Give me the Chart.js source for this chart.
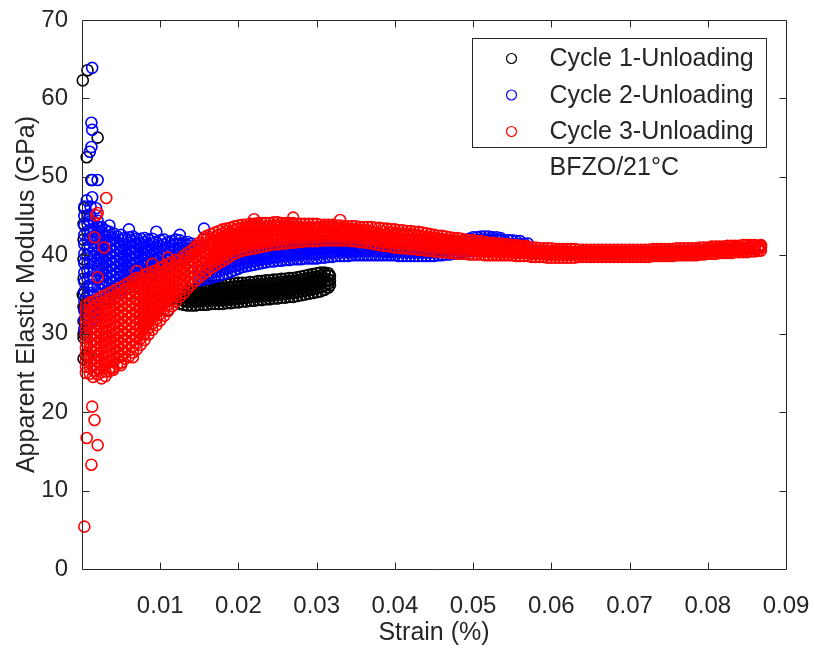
<!DOCTYPE html>
<html>
<head>
<meta charset="utf-8">
<title>Apparent Elastic Modulus vs Strain</title>
<script src="https://cdn.jsdelivr.net/npm/chart.js@4.4.1/dist/chart.umd.min.js"></script>
<style>
  html, body { margin: 0; padding: 0; background: #fff; }
</style>
</head>
<body>
<canvas id="modulusChart" width="815" height="654"></canvas>
<script>
const seriesLabels = ['Cycle 1-Unloading', 'Cycle 2-Unloading', 'Cycle 3-Unloading'];
const seriesColors = ['#000000', '#0000ff', '#ff0000'];
const noteText = 'BFZO/21°C';

// each row: strain (%), then the modulus values (GPa) recorded at that strain
const cycle1Columns = [
  [0.0002, 26.8, 29.5, 31.6, 33.4, 35.0, 37.0, 39.5, 42.0, 44.0],
  [0.0005, 27.2, 30.2, 32.5, 34.5],
  [0.003, 31.5, 33.0, 34.5],
  [0.006, 32.0, 33.5, 35.0],
  [0.009, 32.5, 34.0, 35.5],
  [0.011, 33.0, 34.2],
  [0.0125, 33.8, 34.4, 35.0],
  [0.013, 33.7, 34.2, 34.7, 35.2],
  [0.0135, 33.6, 34.1, 34.6, 35.1, 35.4],
  [0.014, 33.6, 34.1, 34.6, 35.1, 35.5],
  [0.0145, 33.6, 34.1, 34.6, 35.1, 35.6],
  [0.015, 33.7, 34.2, 34.7, 35.2, 35.7],
  [0.0155, 33.7, 34.2, 34.7, 35.2, 35.8],
  [0.016, 33.7, 34.2, 34.7, 35.2, 35.7, 36.0],
  [0.0165, 33.8, 34.3, 34.8, 35.3, 35.8, 36.1],
  [0.017, 33.8, 34.3, 34.8, 35.3, 35.8, 36.1],
  [0.0175, 33.8, 34.3, 34.8, 35.3, 35.8, 36.2],
  [0.018, 33.8, 34.3, 34.8, 35.3, 35.8, 36.2],
  [0.0185, 33.9, 34.4, 34.9, 35.4, 35.9, 36.3],
  [0.019, 33.9, 34.4, 34.9, 35.4, 35.9, 36.4],
  [0.0195, 34.0, 34.5, 35.0, 35.5, 36.0, 36.4],
  [0.020, 34.0, 34.5, 35.0, 35.5, 36.0, 36.5],
  [0.0205, 34.1, 34.6, 35.1, 35.6, 36.1, 36.5],
  [0.021, 34.1, 34.6, 35.1, 35.6, 36.1, 36.5],
  [0.0215, 34.2, 34.7, 35.2, 35.7, 36.2, 36.6],
  [0.022, 34.2, 34.7, 35.2, 35.7, 36.2, 36.6],
  [0.0225, 34.3, 34.8, 35.3, 35.8, 36.3, 36.7],
  [0.023, 34.3, 34.8, 35.3, 35.8, 36.3, 36.7],
  [0.0235, 34.4, 34.9, 35.4, 35.9, 36.4, 36.8],
  [0.024, 34.4, 34.9, 35.4, 35.9, 36.4, 36.8],
  [0.0245, 34.5, 35.0, 35.5, 36.0, 36.5, 36.9],
  [0.025, 34.5, 35.0, 35.5, 36.0, 36.5, 36.9],
  [0.0255, 34.6, 35.1, 35.6, 36.1, 36.6, 37.0],
  [0.026, 34.6, 35.1, 35.6, 36.1, 36.6, 37.0],
  [0.0265, 34.7, 35.2, 35.7, 36.2, 36.7, 37.1],
  [0.027, 34.7, 35.2, 35.7, 36.2, 36.7, 37.1],
  [0.0275, 34.8, 35.3, 35.8, 36.3, 36.8, 37.2],
  [0.028, 34.9, 35.4, 35.9, 36.4, 36.9, 37.3],
  [0.0285, 35.0, 35.5, 36.0, 36.5, 37.0, 37.4],
  [0.029, 35.1, 35.6, 36.1, 36.6, 37.1, 37.5],
  [0.0295, 35.2, 35.7, 36.2, 36.7, 37.2, 37.6],
  [0.030, 35.3, 35.8, 36.3, 36.8, 37.3, 37.7],
  [0.0305, 35.4, 35.9, 36.4, 36.9, 37.4, 37.8],
  [0.031, 35.6, 36.1, 36.6, 37.1, 37.6, 37.8],
  [0.0315, 35.9, 36.4, 36.9, 37.4, 37.7],
  [0.0317, 36.2, 36.8, 37.4]
];
// scattered cycle 1 readings near zero strain
const cycle1ExtraStrain = [0.0001, 0.0007, 0.002, 0.0006, 0.0012, 0.0003, 0.0001, 0.0004, 0.0002, 0.0008, 0.0004];
const cycle1ExtraModulus = [62.3, 63.6, 55.0, 52.5, 49.6, 46.0, 35.0, 31.7, 30.0, 27.0, 33.4];

const cycle2Columns = [
  [0.0003, 30.6, 31.8, 33.0, 34.2, 35.4, 36.6, 37.8, 39.0, 40.2, 41.4, 42.6, 43.8, 45.0, 46.2],
  [0.0007, 31.0, 32.0, 33.0, 34.0, 35.0, 36.0, 37.0, 38.0, 39.0, 40.0, 41.0, 42.0, 43.0, 44.0, 45.0],
  [0.001, 31.2, 32.2, 33.2, 34.2, 35.2, 36.2, 37.2, 38.2, 39.2, 40.2, 41.2, 42.2, 43.2, 44.3, 45.2],
  [0.0015, 32.0, 33.0, 34.0, 35.0, 36.0, 37.0, 38.0, 38.9, 39.8, 40.7, 41.6, 42.5, 43.4, 44.3],
  [0.002, 33.0, 34.0, 35.0, 36.0, 37.0, 38.0, 38.8, 39.6, 40.4, 41.2, 42.0, 42.8, 43.6, 44.4],
  [0.0025, 33.6, 34.6, 35.6, 36.5, 37.3, 38.1, 38.9, 39.7, 40.5, 41.3, 42.1, 42.9, 43.6],
  [0.003, 34.0, 35.0, 36.0, 36.8, 37.6, 38.4, 39.2, 40.0, 40.8, 41.6, 42.4, 43.2],
  [0.0035, 34.6, 35.4, 36.2, 37.0, 37.8, 38.6, 39.4, 40.2, 41.0, 41.8, 42.5, 43.0],
  [0.004, 35.0, 35.8, 36.6, 37.4, 38.2, 39.0, 39.8, 40.6, 41.4, 42.2, 42.8],
  [0.0045, 35.3, 36.1, 36.9, 37.7, 38.5, 39.3, 40.1, 40.9, 41.7, 42.4],
  [0.005, 35.6, 36.4, 37.2, 38.0, 38.8, 39.6, 40.4, 41.2, 42.0, 42.6],
  [0.0055, 35.8, 36.6, 37.4, 38.2, 39.0, 39.8, 40.6, 41.4, 42.2],
  [0.006, 36.0, 36.8, 37.6, 38.4, 39.2, 40.0, 40.8, 41.6, 42.3],
  [0.0065, 36.3, 37.1, 37.9, 38.7, 39.5, 40.3, 41.1, 41.8, 42.4],
  [0.007, 36.6, 37.4, 38.2, 39.0, 39.8, 40.6, 41.4, 42.1],
  [0.0075, 36.8, 37.6, 38.4, 39.2, 40.0, 40.8, 41.5, 42.1],
  [0.008, 37.0, 37.8, 38.6, 39.4, 40.2, 41.0, 41.7, 42.2],
  [0.0085, 37.3, 38.1, 38.9, 39.7, 40.5, 41.3, 42.0],
  [0.009, 37.5, 38.3, 39.1, 39.9, 40.7, 41.5, 42.1],
  [0.0095, 37.8, 38.6, 39.4, 40.2, 41.0, 41.7],
  [0.010, 38.0, 38.8, 39.6, 40.4, 41.2, 41.9],
  [0.0105, 38.3, 39.1, 39.9, 40.7, 41.4, 42.0],
  [0.011, 38.6, 39.4, 40.2, 41.0, 41.7],
  [0.0115, 38.9, 39.7, 40.5, 41.2, 41.8],
  [0.012, 39.2, 40.0, 40.8, 41.5, 42.0],
  [0.0125, 39.5, 40.2, 40.9, 41.5, 41.9],
  [0.013, 39.8, 40.5, 41.1, 41.6],
  [0.0135, 40.1, 40.7, 41.3, 41.7],
  [0.014, 40.3, 40.9, 41.5],
  [0.0145, 40.6, 41.2],
  [0.015, 36.8, 37.4, 38.0],
  [0.0155, 36.9, 37.5, 38.1],
  [0.016, 37.0, 37.6, 38.2],
  [0.0165, 37.1, 37.7, 38.3, 38.8],
  [0.017, 37.3, 37.9, 38.5, 39.0],
  [0.0175, 37.4, 38.0, 38.6, 39.2],
  [0.018, 37.6, 38.2, 38.8, 39.4],
  [0.0185, 37.7, 38.3, 38.9, 39.5],
  [0.019, 37.9, 38.5, 39.1, 39.7],
  [0.0195, 38.1, 38.6, 39.2, 39.8],
  [0.020, 38.3, 38.8, 39.4, 40.0],
  [0.0205, 38.5, 39.0, 39.6, 40.2],
  [0.021, 38.6, 39.1, 39.7, 40.3],
  [0.0215, 38.7, 39.2, 39.8, 40.4],
  [0.022, 38.8, 39.3, 39.9, 40.5],
  [0.0225, 38.9, 39.4, 40.0, 40.6],
  [0.023, 39.0, 39.5, 40.1, 40.7],
  [0.0235, 39.1, 39.6, 40.2, 40.8],
  [0.024, 39.2, 39.7, 40.3, 40.8],
  [0.0245, 39.2, 39.8, 40.4, 40.9],
  [0.025, 39.3, 39.8, 40.4, 40.9],
  [0.0255, 39.3, 39.9, 40.5, 41.0],
  [0.026, 39.4, 39.9, 40.5, 41.0],
  [0.0265, 39.4, 40.0, 40.6, 41.1],
  [0.027, 39.5, 40.0, 40.6, 41.1],
  [0.0275, 39.5, 40.1, 40.7, 41.2],
  [0.028, 39.5, 40.1, 40.7, 41.2],
  [0.0285, 39.6, 40.2, 40.8, 41.3],
  [0.029, 39.6, 40.2, 40.8, 41.3],
  [0.0295, 39.6, 40.2, 40.8, 41.3],
  [0.030, 39.6, 40.2, 40.8, 41.3],
  [0.0305, 39.7, 40.3, 40.9, 41.4],
  [0.031, 39.7, 40.3, 40.9, 41.4],
  [0.0315, 39.8, 40.4, 41.0, 41.5],
  [0.032, 39.8, 40.4, 41.0, 41.5],
  [0.0325, 39.9, 40.5, 41.0, 41.5],
  [0.033, 39.9, 40.5, 41.0, 41.5],
  [0.0335, 39.9, 40.5, 41.1, 41.6],
  [0.034, 39.9, 40.5, 41.1, 41.6],
  [0.0345, 40.0, 40.5, 41.1, 41.6],
  [0.035, 40.0, 40.5, 41.1, 41.6],
  [0.0355, 40.0, 40.6, 41.1],
  [0.036, 40.0, 40.6, 41.1],
  [0.0365, 40.0, 40.6, 41.1],
  [0.037, 40.0, 40.6, 41.1],
  [0.0375, 40.0, 40.6, 41.1],
  [0.038, 40.0, 40.6, 41.1],
  [0.0385, 40.0, 40.5, 41.0],
  [0.039, 40.0, 40.5, 41.0],
  [0.0395, 40.0, 40.5, 41.0],
  [0.040, 40.0, 40.5, 41.0],
  [0.0405, 39.9, 40.5, 41.0],
  [0.041, 39.9, 40.5, 41.0],
  [0.0415, 39.9, 40.4, 41.0],
  [0.042, 39.9, 40.4, 41.0],
  [0.0425, 39.9, 40.4, 41.0],
  [0.043, 39.9, 40.4, 41.0],
  [0.0435, 39.9, 40.4, 41.0],
  [0.044, 39.9, 40.4, 41.0],
  [0.0445, 39.9, 40.4, 41.0],
  [0.045, 39.9, 40.4, 41.0],
  [0.0455, 40.0, 40.5, 41.0],
  [0.046, 40.0, 40.5, 41.1],
  [0.0465, 40.1, 40.6, 41.2],
  [0.047, 40.1, 40.7, 41.3],
  [0.0475, 40.2, 40.8, 41.4],
  [0.048, 40.3, 40.9, 41.5],
  [0.0485, 40.4, 41.0, 41.6],
  [0.049, 40.5, 41.1, 41.7],
  [0.0495, 40.5, 41.2, 41.8, 42.1],
  [0.050, 40.6, 41.3, 41.9, 42.3],
  [0.0505, 40.6, 41.3, 41.9, 42.3],
  [0.051, 40.7, 41.4, 42.0, 42.4],
  [0.0515, 40.7, 41.4, 42.0, 42.4],
  [0.052, 40.7, 41.4, 42.0, 42.4],
  [0.0525, 40.8, 41.4, 42.0, 42.3],
  [0.053, 40.8, 41.4, 42.0, 42.3],
  [0.0535, 40.8, 41.4, 41.9, 42.2],
  [0.054, 40.8, 41.4, 41.9],
  [0.0545, 40.8, 41.4, 41.9],
  [0.055, 40.8, 41.4, 41.9],
  [0.0555, 40.9, 41.4, 41.8],
  [0.056, 40.9, 41.4, 41.8],
  [0.0565, 41.0, 41.5],
  [0.057, 41.0, 41.5]
];
const cycle2ExtraStrain = [0.0013, 0.0012, 0.0013, 0.0012, 0.001, 0.0013, 0.002, 0.0006, 0.0013, 0.0011, 0.0008, 0.0018, 0.0022, 0.0035, 0.006, 0.0095, 0.0125, 0.0156, 0.0005, 0.0015];
const cycle2ExtraModulus = [63.9, 56.9, 56.0, 53.8, 53.2, 49.6, 49.6, 47.0, 47.4, 46.2, 44.5, 46.0, 43.6, 43.8, 43.3, 43.0, 42.6, 43.4, 29.8, 31.5];

const cycle3Columns = [
  [0.0005, 25.0, 25.8, 26.6, 27.4, 28.2, 29.0, 29.8, 30.6, 31.4, 32.2, 33.0, 33.6],
  [0.001, 24.9, 25.7, 26.5, 27.3, 28.1, 28.9, 29.7, 30.5, 31.3, 32.1, 32.9, 33.7, 34.0],
  [0.0015, 25.3, 26.1, 26.9, 27.7, 28.5, 29.3, 30.1, 30.9, 31.7, 32.5, 33.3, 34.1],
  [0.002, 24.8, 25.6, 26.4, 27.2, 28.0, 28.8, 29.6, 30.4, 31.2, 32.0, 32.8, 33.6, 34.4],
  [0.0025, 25.1, 25.9, 26.7, 27.5, 28.3, 29.1, 29.9, 30.7, 31.5, 32.3, 33.1, 33.9, 34.7],
  [0.003, 25.2, 26.0, 26.8, 27.6, 28.4, 29.2, 30.0, 30.8, 31.6, 32.4, 33.2, 34.0, 34.9],
  [0.0035, 25.6, 26.4, 27.2, 28.0, 28.8, 29.6, 30.4, 31.2, 32.0, 32.8, 33.6, 34.4, 35.2],
  [0.004, 25.7, 26.5, 27.3, 28.1, 28.9, 29.7, 30.5, 31.3, 32.1, 32.9, 33.7, 34.5, 35.4],
  [0.0045, 26.1, 26.9, 27.7, 28.5, 29.3, 30.1, 30.9, 31.7, 32.5, 33.3, 34.1, 34.9, 35.7],
  [0.005, 26.3, 27.1, 27.9, 28.7, 29.5, 30.3, 31.1, 31.9, 32.7, 33.5, 34.3, 35.1, 35.9],
  [0.0055, 26.8, 27.6, 28.4, 29.2, 30.0, 30.8, 31.6, 32.4, 33.2, 34.0, 34.8, 35.6, 36.2],
  [0.006, 27.1, 27.9, 28.7, 29.5, 30.3, 31.1, 31.9, 32.7, 33.5, 34.3, 35.1, 35.8, 36.5],
  [0.0065, 27.6, 28.4, 29.2, 30.0, 30.8, 31.6, 32.4, 33.2, 34.0, 34.8, 35.6, 36.3, 36.8],
  [0.007, 28.0, 28.8, 29.6, 30.4, 31.2, 32.0, 32.8, 33.6, 34.4, 35.2, 36.0, 36.6, 37.1],
  [0.0075, 28.6, 29.4, 30.2, 31.0, 31.8, 32.6, 33.4, 34.2, 35.0, 35.8, 36.5, 37.1],
  [0.008, 29.2, 30.0, 30.8, 31.6, 32.4, 33.2, 34.0, 34.8, 35.6, 36.4, 37.0, 37.5],
  [0.0085, 29.9, 30.7, 31.5, 32.3, 33.1, 33.9, 34.7, 35.5, 36.3, 37.0, 37.7],
  [0.009, 30.5, 31.3, 32.1, 32.9, 33.7, 34.5, 35.3, 36.1, 36.8, 37.4, 37.9],
  [0.0095, 31.1, 31.9, 32.7, 33.5, 34.3, 35.1, 35.9, 36.7, 37.4, 38.1],
  [0.010, 31.7, 32.5, 33.3, 34.1, 34.9, 35.7, 36.5, 37.2, 37.8, 38.4],
  [0.0105, 32.3, 33.1, 33.9, 34.7, 35.5, 36.3, 37.1, 37.9, 38.6],
  [0.011, 32.9, 33.7, 34.5, 35.3, 36.1, 36.9, 37.6, 38.3, 38.9],
  [0.0115, 33.5, 34.3, 35.1, 35.9, 36.7, 37.5, 38.3, 39.1],
  [0.012, 34.1, 34.9, 35.7, 36.5, 37.3, 38.0, 38.7, 39.4],
  [0.0125, 34.7, 35.5, 36.3, 37.1, 37.9, 38.7, 39.4],
  [0.013, 35.2, 36.0, 36.8, 37.6, 38.4, 39.2, 39.9],
  [0.0135, 35.8, 36.6, 37.4, 38.2, 39.0, 39.7, 40.3],
  [0.014, 36.3, 37.1, 37.9, 38.7, 39.4, 40.0, 40.6],
  [0.0145, 36.8, 37.5, 38.2, 38.9, 39.6, 40.3, 40.9, 41.1],
  [0.015, 37.2, 37.9, 38.6, 39.3, 40.0, 40.7, 41.2, 41.6],
  [0.0155, 37.6, 38.3, 39.0, 39.7, 40.4, 41.1, 41.6, 42.1],
  [0.016, 38.0, 38.7, 39.4, 40.1, 40.8, 41.4, 42.0, 42.5],
  [0.0165, 38.4, 39.0, 39.6, 40.2, 40.8, 41.4, 42.0, 42.7],
  [0.017, 38.7, 39.3, 39.9, 40.5, 41.1, 41.7, 42.3, 42.9],
  [0.0175, 39.0, 39.6, 40.2, 40.8, 41.4, 42.0, 42.6, 43.1],
  [0.018, 39.3, 39.9, 40.5, 41.1, 41.7, 42.3, 42.8, 43.3],
  [0.0185, 39.6, 40.2, 40.8, 41.4, 42.0, 42.6, 43.1, 43.4],
  [0.019, 39.9, 40.5, 41.1, 41.7, 42.3, 42.9, 43.5],
  [0.0195, 40.2, 40.8, 41.4, 42.0, 42.6, 43.2, 43.7],
  [0.020, 40.4, 41.0, 41.6, 42.2, 42.8, 43.4, 43.8],
  [0.0205, 40.6, 41.2, 41.8, 42.4, 43.0, 43.5, 43.9],
  [0.021, 40.7, 41.3, 41.9, 42.5, 43.1, 43.6, 43.9],
  [0.0215, 40.8, 41.4, 42.0, 42.6, 43.2, 43.7, 44.0],
  [0.022, 40.9, 41.5, 42.1, 42.7, 43.3, 43.8, 44.0],
  [0.0225, 41.0, 41.6, 42.2, 42.8, 43.4, 43.9, 44.1],
  [0.023, 41.1, 41.7, 42.3, 42.9, 43.5, 44.1],
  [0.0235, 41.2, 41.8, 42.4, 43.0, 43.6, 44.1],
  [0.024, 41.3, 41.9, 42.5, 43.1, 43.7, 44.1],
  [0.0245, 41.4, 42.0, 42.6, 43.2, 43.8, 44.2],
  [0.025, 41.4, 42.0, 42.6, 43.2, 43.8, 44.2],
  [0.0255, 41.5, 42.1, 42.7, 43.3, 43.8, 44.1],
  [0.026, 41.5, 42.1, 42.7, 43.3, 43.8, 44.1],
  [0.0265, 41.6, 42.2, 42.8, 43.4, 43.9, 44.1],
  [0.027, 41.6, 42.2, 42.8, 43.4, 43.9, 44.1],
  [0.0275, 41.7, 42.3, 42.9, 43.5, 44.0],
  [0.028, 41.7, 42.3, 42.9, 43.5, 44.0],
  [0.0285, 41.8, 42.4, 43.0, 43.5, 44.0],
  [0.029, 41.8, 42.4, 43.0, 43.5, 44.0],
  [0.0295, 41.8, 42.4, 43.0, 43.5, 44.0],
  [0.030, 41.8, 42.4, 43.0, 43.5, 44.0],
  [0.0305, 41.9, 42.5, 43.1, 43.6, 43.9],
  [0.031, 41.9, 42.5, 43.1, 43.6, 43.9],
  [0.0315, 41.9, 42.5, 43.1, 43.6, 43.9],
  [0.032, 41.9, 42.5, 43.1, 43.6, 43.9],
  [0.0325, 41.9, 42.5, 43.0, 43.5, 43.8],
  [0.033, 41.9, 42.5, 43.0, 43.5, 43.8],
  [0.0335, 41.9, 42.4, 42.9, 43.4, 43.7],
  [0.034, 41.9, 42.4, 42.9, 43.4, 43.7],
  [0.0345, 41.8, 42.3, 42.8, 43.3, 43.7],
  [0.035, 41.8, 42.3, 42.8, 43.3, 43.7],
  [0.0355, 41.7, 42.2, 42.7, 43.2, 43.6],
  [0.036, 41.7, 42.2, 42.7, 43.2, 43.6],
  [0.0365, 41.6, 42.1, 42.6, 43.1, 43.6],
  [0.037, 41.5, 42.0, 42.5, 43.0, 43.6],
  [0.0375, 41.4, 41.9, 42.4, 42.9, 43.5],
  [0.038, 41.3, 41.8, 42.3, 42.8, 43.5],
  [0.0385, 41.2, 41.8, 42.4, 43.0, 43.4],
  [0.039, 41.2, 41.7, 42.2, 42.7, 43.4],
  [0.0395, 41.1, 41.7, 42.3, 42.9, 43.3],
  [0.040, 41.0, 41.6, 42.2, 42.8, 43.3],
  [0.0405, 41.0, 41.6, 42.2, 42.8, 43.2],
  [0.041, 40.9, 41.5, 42.1, 42.7, 43.2],
  [0.0415, 40.9, 41.5, 42.1, 42.7, 43.1],
  [0.042, 40.8, 41.4, 42.0, 42.6, 43.1],
  [0.0425, 40.8, 41.4, 42.0, 42.6, 43.0],
  [0.043, 40.7, 41.3, 41.9, 42.5, 43.0],
  [0.0435, 40.7, 41.3, 41.9, 42.4, 42.9],
  [0.044, 40.6, 41.2, 41.8, 42.3, 42.8],
  [0.0445, 40.6, 41.2, 41.8, 42.3, 42.7],
  [0.045, 40.5, 41.1, 41.7, 42.2, 42.6],
  [0.0455, 40.5, 41.1, 41.7, 42.1, 42.5],
  [0.046, 40.4, 41.0, 41.6, 42.0, 42.5],
  [0.0465, 40.4, 41.0, 41.6, 42.0, 42.4],
  [0.047, 40.3, 40.9, 41.5, 41.9, 42.3],
  [0.0475, 40.3, 40.9, 41.5, 41.9, 42.2],
  [0.048, 40.2, 40.8, 41.4, 41.8, 42.2],
  [0.0485, 40.2, 40.8, 41.4, 41.8, 42.1],
  [0.049, 40.2, 40.8, 41.3, 41.7, 42.0],
  [0.0495, 40.1, 40.7, 41.2, 41.6, 41.9],
  [0.050, 40.1, 40.7, 41.2, 41.6, 41.9],
  [0.0505, 40.1, 40.6, 41.1, 41.5, 41.8],
  [0.051, 40.1, 40.6, 41.1, 41.5, 41.8],
  [0.0515, 40.0, 40.5, 41.0, 41.4, 41.7],
  [0.052, 40.0, 40.5, 41.0, 41.3, 41.6],
  [0.0525, 40.0, 40.5, 40.9, 41.3, 41.6],
  [0.053, 40.0, 40.5, 40.9, 41.2, 41.5],
  [0.0535, 40.0, 40.4, 40.8, 41.2, 41.5],
  [0.054, 40.0, 40.4, 40.8, 41.1, 41.4],
  [0.0545, 40.0, 40.4, 40.8, 41.1, 41.4],
  [0.055, 40.0, 40.4, 40.8, 41.1, 41.3],
  [0.0555, 39.9, 40.3, 40.7, 41.0, 41.3],
  [0.056, 39.9, 40.3, 40.7, 41.0, 41.2],
  [0.0565, 39.9, 40.3, 40.7, 41.0, 41.2],
  [0.057, 39.9, 40.3, 40.7, 41.0, 41.1],
  [0.0575, 39.8, 40.2, 40.6, 41.0],
  [0.058, 39.8, 40.2, 40.6, 41.0],
  [0.0585, 39.8, 40.2, 40.6, 40.9],
  [0.059, 39.8, 40.2, 40.6, 40.9],
  [0.0595, 39.7, 40.1, 40.5, 40.9],
  [0.060, 39.7, 40.1, 40.5, 40.9],
  [0.0605, 39.7, 40.1, 40.5, 40.8],
  [0.061, 39.7, 40.1, 40.5, 40.8],
  [0.0615, 39.7, 40.1, 40.5, 40.8],
  [0.062, 39.7, 40.1, 40.5, 40.8],
  [0.0625, 39.7, 40.1, 40.4, 40.8],
  [0.063, 39.7, 40.1, 40.4, 40.8],
  [0.0635, 39.8, 40.1, 40.4, 40.7],
  [0.064, 39.8, 40.1, 40.4, 40.7],
  [0.0645, 39.8, 40.1, 40.4, 40.7],
  [0.065, 39.8, 40.1, 40.4, 40.7],
  [0.0655, 39.8, 40.1, 40.4, 40.7],
  [0.066, 39.8, 40.1, 40.4, 40.7],
  [0.0665, 39.8, 40.1, 40.4, 40.7],
  [0.067, 39.8, 40.1, 40.4, 40.7],
  [0.0675, 39.8, 40.1, 40.4, 40.7],
  [0.068, 39.8, 40.1, 40.4, 40.7],
  [0.0685, 39.8, 40.1, 40.4, 40.7],
  [0.069, 39.8, 40.1, 40.4, 40.7],
  [0.0695, 39.8, 40.1, 40.4, 40.7],
  [0.070, 39.8, 40.1, 40.4, 40.7],
  [0.0705, 39.8, 40.1, 40.4, 40.7],
  [0.071, 39.8, 40.1, 40.4, 40.7],
  [0.0715, 39.8, 40.1, 40.4, 40.7],
  [0.072, 39.8, 40.1, 40.4, 40.7],
  [0.0725, 39.8, 40.1, 40.4, 40.7],
  [0.073, 39.9, 40.2, 40.5, 40.8],
  [0.0735, 39.9, 40.2, 40.5, 40.8],
  [0.074, 39.9, 40.2, 40.5, 40.8],
  [0.0745, 39.9, 40.2, 40.5, 40.8],
  [0.075, 39.9, 40.2, 40.5, 40.8],
  [0.0755, 39.9, 40.2, 40.5, 40.8],
  [0.076, 40.0, 40.3, 40.6, 40.9],
  [0.0765, 40.0, 40.3, 40.6, 40.9],
  [0.077, 40.0, 40.3, 40.6, 40.9],
  [0.0775, 40.0, 40.3, 40.6, 40.9],
  [0.078, 40.0, 40.3, 40.6, 40.9],
  [0.0785, 40.0, 40.3, 40.6, 40.9],
  [0.079, 40.1, 40.4, 40.7, 41.0],
  [0.0795, 40.1, 40.4, 40.7, 41.0],
  [0.080, 40.2, 40.5, 40.8, 41.0],
  [0.0805, 40.2, 40.5, 40.8, 41.1],
  [0.081, 40.2, 40.5, 40.8, 41.1],
  [0.0815, 40.3, 40.6, 40.9, 41.1],
  [0.082, 40.3, 40.6, 40.9, 41.1],
  [0.0825, 40.3, 40.6, 40.9, 41.2],
  [0.083, 40.3, 40.6, 40.9, 41.2],
  [0.0835, 40.4, 40.7, 41.0, 41.2],
  [0.084, 40.4, 40.7, 41.0, 41.2],
  [0.0845, 40.4, 40.7, 41.0, 41.3],
  [0.085, 40.4, 40.7, 41.0, 41.3],
  [0.0855, 40.5, 40.8, 41.1, 41.3],
  [0.086, 40.5, 40.8, 41.1, 41.3],
  [0.0865, 40.6, 40.9, 41.2],
  [0.0868, 40.6, 41.0, 41.3]
];
const cycle3ExtraStrain = [0.0003, 0.0006, 0.0012, 0.0013, 0.0016, 0.002, 0.0014, 0.0025, 0.003, 0.0035, 0.004, 0.005, 0.0065, 0.002, 0.0031, 0.0016, 0.0028, 0.002, 0.0018, 0.007, 0.009, 0.011, 0.0157, 0.022, 0.027, 0.033, 0.0868];
const cycle3ExtraModulus = [5.4, 16.7, 13.3, 20.7, 19.0, 15.8, 24.5, 24.3, 24.6, 25.2, 25.4, 26.0, 27.0, 45.4, 47.3, 42.3, 41.0, 37.2, 45.1, 38.0, 38.9, 39.7, 42.3, 44.6, 44.8, 44.5, 41.2];

const FONT = "'Liberation Sans', Arial, sans-serif";
const INK = '#262626';

function toPoints(columns, extraStrain, extraModulus) {
  const pts = [];
  columns.forEach(row => {
    for (let k = 1; k < row.length; k++) pts.push({ x: row[0], y: row[k] });
  });
  extraStrain.forEach((s, i) => pts.push({ x: s, y: extraModulus[i] }));
  return pts;
}

const allPoints = [
  toPoints(cycle1Columns, cycle1ExtraStrain, cycle1ExtraModulus),
  toPoints(cycle2Columns, cycle2ExtraStrain, cycle2ExtraModulus),
  toPoints(cycle3Columns, cycle3ExtraStrain, cycle3ExtraModulus)
];

// box around the axes with inward ticks, plus the legend and note
const axesBox = {
  id: 'axesBox',
  afterDraw(chart) {
    const { ctx, chartArea: a, scales: { x, y } } = chart;
    ctx.save();
    ctx.strokeStyle = INK;
    ctx.lineWidth = 1;
    const L = Math.round(a.left) + 0.5, R = Math.round(a.right) + 0.5;
    const T = Math.round(a.top) + 0.5, B = Math.round(a.bottom) + 0.5;
    ctx.beginPath();
    ctx.rect(L, T, R - L, B - T);
    const tl = 7;
    x.ticks.forEach(t => {
      if (t.value <= x.min || t.value >= x.max - 1e-9) return;
      const px = Math.round(x.getPixelForValue(t.value)) + 0.5;
      ctx.moveTo(px, B); ctx.lineTo(px, B - tl);
      ctx.moveTo(px, T); ctx.lineTo(px, T + tl);
    });
    y.ticks.forEach(t => {
      if (t.value <= y.min || t.value >= y.max) return;
      const py = Math.round(y.getPixelForValue(t.value)) + 0.5;
      ctx.moveTo(L, py); ctx.lineTo(L + tl, py);
      ctx.moveTo(R, py); ctx.lineTo(R - tl, py);
    });
    ctx.stroke();

    // legend
    const bw = 294, bh = 109;
    const left = Math.round(a.right) - 19.5 - bw, top = Math.round(a.top) + 18.5;
    ctx.fillStyle = '#fff';
    ctx.fillRect(left, top, bw, bh);
    ctx.strokeRect(left, top, bw, bh);
    ctx.font = '25px ' + FONT;
    ctx.textBaseline = 'middle';
    ctx.textAlign = 'left';
    seriesLabels.forEach((label, i) => {
      const ry = top + 20 + i * 36.5;
      ctx.beginPath();
      ctx.strokeStyle = seriesColors[i];
      ctx.lineWidth = 1.2;
      ctx.arc(left + 39, ry, 5, 0, Math.PI * 2);
      ctx.stroke();
      ctx.fillStyle = INK;
      ctx.fillText(label, left + 77, ry + 1);
    });
    ctx.fillText(noteText, left + 77, top + bh + 21);
    ctx.restore();
  }
};

const ctx = document.getElementById('modulusChart').getContext('2d');

new Chart(ctx, {
  type: 'scatter',
  data: {
    datasets: seriesLabels.map((label, i) => ({
      label: label,
      data: allPoints[i],
      borderColor: seriesColors[i],
      backgroundColor: 'rgba(0,0,0,0)',
      pointRadius: 5.5,
      pointBorderWidth: 1.6,
      order: 3 - i,
      clip: false
    }))
  },
  options: {
    responsive: false,
    animation: false,
    layout: { padding: { top: 20, right: 29, left: 0, bottom: 0 } },
    plugins: {
      legend: { display: false },
      tooltip: { enabled: false }
    },
    scales: {
      x: {
        type: 'linear',
        min: 0,
        max: 0.09,
        ticks: {
          stepSize: 0.01,
          autoSkip: false,
          maxRotation: 0,
          padding: 23,
          color: INK,
          font: { family: FONT, size: 24 },
          callback: v => (Math.abs(v) < 1e-9 ? '' : v.toFixed(2))
        },
        grid: { display: false, drawTicks: false },
        border: { display: false },
        title: {
          display: true,
          text: 'Strain (%)',
          color: INK,
          font: { family: FONT, size: 25 },
          padding: { top: 0, bottom: 6 }
        },
        afterFit: s => { s.height = 85; s.paddingLeft = 0; s.paddingRight = 0; }
      },
      y: {
        min: 0,
        max: 70,
        ticks: {
          stepSize: 10,
          padding: 14,
          color: INK,
          font: { family: FONT, size: 24 }
        },
        grid: { display: false, drawTicks: false },
        border: { display: false },
        title: {
          display: true,
          text: 'Apparent Elastic Modulus (GPa)',
          color: INK,
          font: { family: FONT, size: 25 },
          padding: { top: 12, bottom: 0 }
        },
        afterFit: s => { s.width = 82; s.paddingTop = 0; s.paddingBottom = 0; }
      }
    }
  },
  plugins: [axesBox]
});
</script>
</body>
</html>
